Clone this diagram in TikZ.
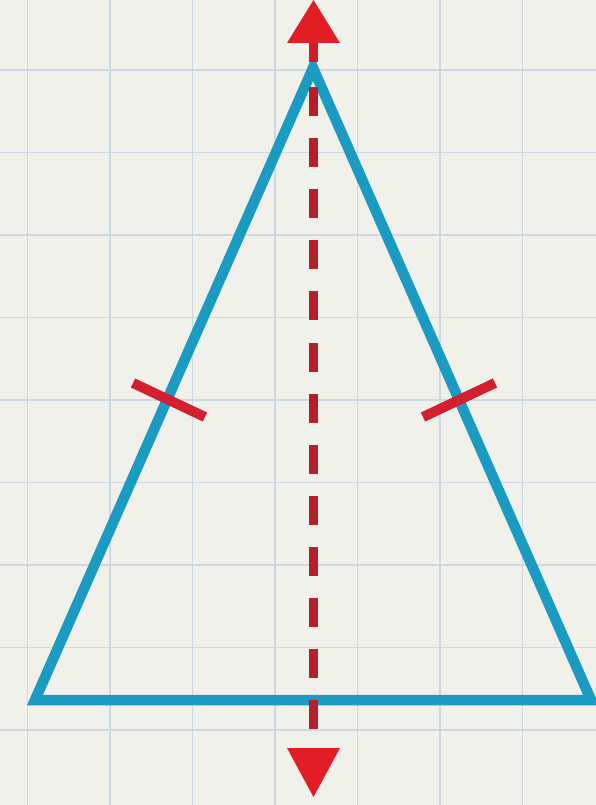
\documentclass[tikz,border=0pt]{standalone}
\usetikzlibrary{calc}
\definecolor{paper}{HTML}{F1F1EC}
\definecolor{gridc}{HTML}{CCD9E2}
\definecolor{triblue}{HTML}{1B9AC2}
\definecolor{dashred}{HTML}{B51E2A}
\definecolor{headred}{HTML}{E31D26}
\definecolor{tickred}{HTML}{D22030}
\tikzset{
  gridline/.style={draw=gridc, line width=1.6pt},
  triside/.style={draw=triblue, line width=10.5pt, line join=miter},
  axisdash/.style={draw=dashred, line width=9pt, dash pattern=on 29pt off 22.1pt},
  axishead/.style={fill=headred, draw=none},
  axisshaft/.style={draw=headred!60!dashred, line width=9pt},
  tickmark/.style={draw=tickred, line width=10pt}
}
\begin{document}
\begin{tikzpicture}[x=1pt,y=-1pt]
  % paper
  \fill[paper] (0,0) rectangle (596,805);
  \useasboundingbox (0,0) rectangle (596,805);
  % grid
  \foreach \gx in {27.5,110,192.5,275,357.5,440,522.5}
    \draw[gridline] (\gx,0) -- (\gx,805);
  \foreach \gy in {70,152.5,235,317.5,400,482.5,565,647.5,730}
    \draw[gridline] (0,\gy) -- (596,\gy);
  % triangle
  \coordinate (A) at (313,68);
  \coordinate (L) at (35,700);
  \coordinate (R) at (591,700);
  \draw[triside] (A) -- (L) -- (R) -- cycle;
  % axis of symmetry
  \coordinate (dtop) at (313,87);
  \coordinate (dbot) at (313,732);
  \draw[axisdash] (dtop) -- (dbot);
  % arrow heads
  \coordinate (ttip) at (313.5,0);
  \coordinate (btip) at (313.5,797);
  \draw[axisshaft] (313,42) -- (313,62);
  \fill[axishead] (ttip) -- (340,43) -- (287,43) -- cycle;
  \fill[axishead] (btip) -- (340,748) -- (287,748) -- cycle;
  % congruence ticks
  \coordinate (l1) at (133,383);
  \coordinate (l2) at (205,417);
  \coordinate (r1) at (423,417);
  \coordinate (r2) at (495,383);
  \draw[tickmark] (l1) -- (l2);
  \draw[tickmark] (r1) -- (r2);
\end{tikzpicture}
\end{document}
